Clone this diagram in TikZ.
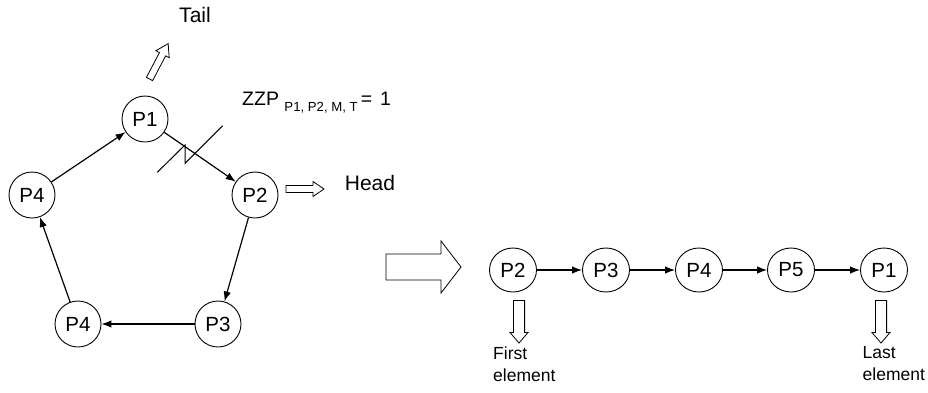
\documentclass[tikz,border=0pt]{standalone}
\usepackage{fontspec}
\setmainfont{Liberation Sans}
\usetikzlibrary{arrows.meta,shapes.geometric}

% block (hollow) arrow: x, y, angle, length, shaft half-width, head half-width, head length
\newcommand{\hollowarrow}[7]{%
  \draw[blockarr,shift={(#1,#2)},rotate=#3]
    (0,-#5) -- ({#4-#7},-#5) -- ({#4-#7},-#6) -- (#4,0)
    -- ({#4-#7},#6) -- ({#4-#7},#5) -- (0,#5) -- cycle;}

\begin{document}
\begin{tikzpicture}[x=1pt,y=-1pt,
  proc/.style={draw,circle,line width=0.9pt,minimum size=46pt,inner sep=0pt,
    font=\fontsize{20.5}{20.5}\selectfont},
  chainproc/.style={draw,ellipse,line width=0.9pt,minimum width=47pt,minimum height=44pt,
    inner sep=0pt,font=\fontsize{20.5}{20.5}\selectfont},
  link/.style={line width=1.2pt,-{Latex[length=10pt,width=7.5pt]}},
  blockarr/.style={draw,line width=0.8pt,fill=white,line join=miter},
  label/.style={inner sep=0pt,font=\fontsize{21}{21}\selectfont},
  small/.style={inner sep=0pt,align=left,font=\fontsize{17.5}{22}\selectfont}]
\useasboundingbox (0,0) rectangle (928,392);

% ring of processes
\node[proc] (p1)  at (145,119) {P1};
\node[proc] (p2)  at (255,195) {P2};
\node[proc] (p3)  at (218,324) {P3};
\node[proc] (p4b) at (78,324)  {P4};
\node[proc] (p4l) at (32,195)  {P4};

\draw[link] (p4l) -- (p1);
\draw[link] (p1)  -- (p2);
\draw[link] (p2)  -- (p3);
\draw[link] (p3)  -- (p4b);
\draw[link] (p4b) -- (p4l);

% broken link marker across P1 -> P2
\coordinate (z1) at (157.3,172.3);
\coordinate (z2) at (185,145);
\coordinate (z3) at (185,163.3);
\coordinate (z4) at (222.7,125.7);
\draw[line width=1pt] (z1) -- (z2) -- (z3) -- (z4);

% tail and head pointers
\hollowarrow{149.5}{79}{62.2}{40}{3.5}{7.5}{12}
\node[label] (tail) at (195,15) {Tail};
\hollowarrow{286}{189}{0}{38}{3.5}{7.5}{11}
\node[label] (head) at (370,183) {Head};

\node[label,anchor=base west,font=\fontsize{19.5}{19.5}\selectfont] (zzp) at (242,105)
  {ZZP \raisebox{-6pt}{\fontsize{13.2}{13.2}\selectfont P1, P2, M, T}\hspace{3pt}=\hspace{8pt}1};

% transformation arrow
\hollowarrow{386}{267}{0}{75}{13}{26}{20}

% resulting list
\node[chainproc] (c2) at (513,270) {P2};
\node[chainproc] (c3) at (606,270) {P3};
\node[chainproc] (c4) at (699,270) {P4};
\node[chainproc] (c5) at (791,270) {P5};
\node[chainproc] (c1) at (884,270) {P1};

\draw[link] (c2) -- (c3);
\draw[link] (c3) -- (c4);
\draw[link] (c4) -- (c5);
\draw[link] (c5) -- (c1);

\hollowarrow{519}{300.5}{-90}{42.5}{5.6}{9}{10.5}
\hollowarrow{881}{300.5}{-90}{42.5}{5.6}{9}{10.5}

\node[small,anchor=north west] (first) at (493,346.5) {First\\element};
\node[small,anchor=north west] (last)  at (862.5,346.5) {Last\\element};
\end{tikzpicture}
\end{document}
